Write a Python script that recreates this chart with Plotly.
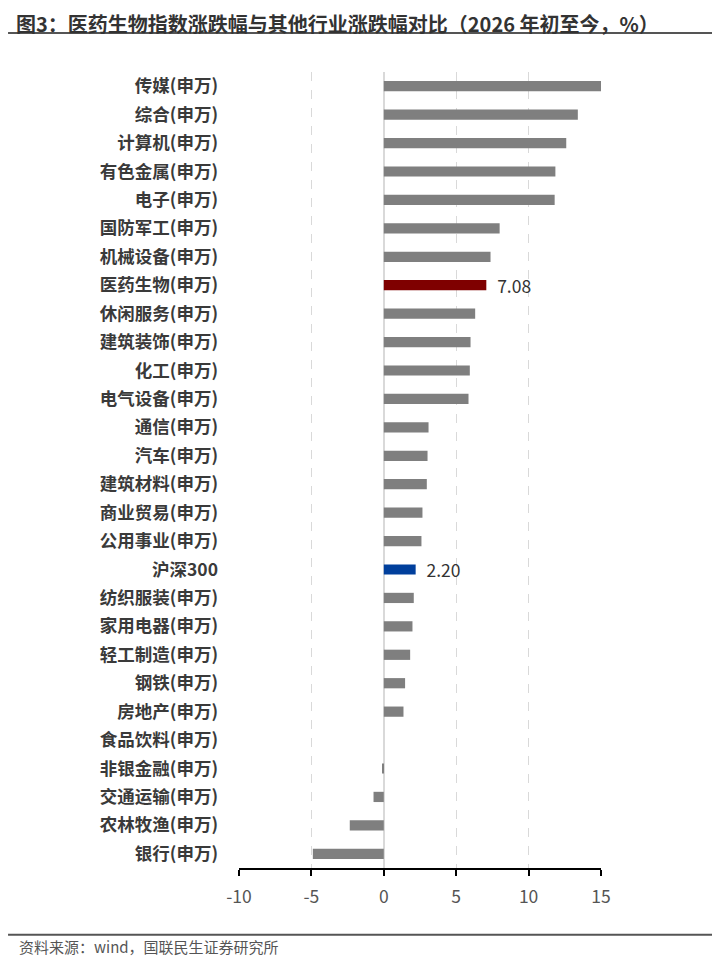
import plotly.graph_objects as go

categories = [
    "传媒(申万)", "综合(申万)", "计算机(申万)", "有色金属(申万)", "电子(申万)",
    "国防军工(申万)", "机械设备(申万)", "医药生物(申万)", "休闲服务(申万)",
    "建筑装饰(申万)", "化工(申万)", "电气设备(申万)", "通信(申万)", "汽车(申万)",
    "建筑材料(申万)", "商业贸易(申万)", "公用事业(申万)", "沪深300",
    "纺织服装(申万)", "家用电器(申万)", "轻工制造(申万)", "钢铁(申万)",
    "房地产(申万)", "食品饮料(申万)", "非银金融(申万)", "交通运输(申万)",
    "农林牧渔(申万)", "银行(申万)",
]
values = [
    15.1, 13.4, 12.6, 11.85, 11.8,
    8.0, 7.37, 7.08, 6.31,
    5.99, 5.94, 5.85, 3.09, 3.02,
    2.97, 2.67, 2.60, 2.20,
    2.07, 1.98, 1.82, 1.47,
    1.36, 0.0, -0.1, -0.71,
    -2.35, -4.9,
]
x_ticks = [-10, -5, 0, 5, 10, 15]

GRAY = "#7f7f7f"
RED = "#7f0000"
BLUE = "#003f9c"

colors = []
labels = []
for c, v in zip(categories, values):
    if c == "医药生物(申万)":
        colors.append(RED)
        labels.append("\u00a0\u00a0" + f"{v:.2f}")
    elif c == "沪深300":
        colors.append(BLUE)
        labels.append("\u00a0\u00a0" + f"{v:.2f}")
    else:
        colors.append(GRAY)
        labels.append("")

font = "Noto Sans CJK SC, Microsoft YaHei, sans-serif"

fig = go.Figure(go.Bar(
    x=values, y=categories, orientation="h",
    marker=dict(color=colors, line=dict(width=0)),
    width=0.36,
    text=labels, textposition="outside", constraintext="none",
    outsidetextfont=dict(size=17.5, color="#333333", family=font),
    cliponaxis=False,
))

# page body has an 8px margin, so the figure is 8px smaller than the window
fig.update_layout(
    width=712, height=954,
    margin=dict(l=231, r=119, t=64, b=94),
    plot_bgcolor="white", paper_bgcolor="white",
    font=dict(family=font),
    showlegend=False,
)

fig.update_xaxes(
    range=[-10, 15], tickvals=x_ticks, ticktext=[str(t) for t in x_ticks],
    showgrid=True, gridcolor="#d9d9d9", griddash="dash", gridwidth=1,
    zeroline=True, zerolinecolor="#d9d9d9", zerolinewidth=2,
    showline=True, linecolor="#000000", linewidth=1.5,
    ticks="outside", ticklen=6, tickcolor="#000000", tickwidth=1.5,
    tickfont=dict(size=17.5, color="#555555"),
    ticklabelstandoff=6,
)
fig.update_yaxes(
    categoryorder="array", categoryarray=categories[::-1],
    showgrid=False, showline=False, ticks="",
    tickfont=dict(size=17.5, color="#3a3a3a", weight="bold"),
    ticklabelstandoff=20,
)

# title with underline
fig.add_annotation(
    x=-0.619, y=1.0804, xref="paper", yref="paper", xanchor="left", yanchor="top",
    text="<b>图3：医药生物指数涨跌幅与其他行业涨跌幅对比（2026 年初至今，%）</b>",
    showarrow=False, borderpad=0,
    font=dict(size=20, color="#333333", family=font),
)
fig.add_shape(type="line", xref="paper", yref="paper",
              x0=-0.638, x1=1.315, y0=1.049, y1=1.049,
              line=dict(color="#555555", width=2))

# footer line and source
fig.add_shape(type="line", xref="paper", yref="paper",
              x0=-0.638, x1=1.315, y0=-0.084, y1=-0.084,
              line=dict(color="#555555", width=2))
fig.add_annotation(
    x=-0.613, y=-0.099, xref="paper", yref="paper", xanchor="left", yanchor="middle",
    text="资料来源：wind，国联民生证券研究所",
    showarrow=False, font=dict(size=15, color="#555555", family=font),
)

fig.write_html("out.html")
